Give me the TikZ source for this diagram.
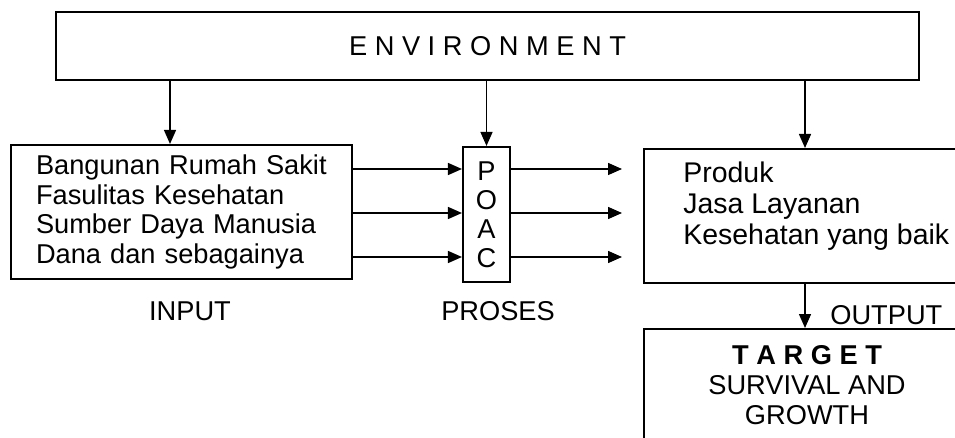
\documentclass[tikz,border=0pt]{standalone}
\usepackage{fontspec}
\setmainfont{Liberation Sans}
\usetikzlibrary{positioning, calc, arrows.meta}

\tikzset{
  box/.style={draw, line width=1.2pt, inner sep=0pt},
  arr/.style={line width=0.8pt, -{Triangle[length=0.28cm, width=0.24cm]}},
  lbl/.style={inner sep=0pt},
}

\begin{document}
\begin{tikzpicture}[x=0.02cm, y=-0.02cm, font=\fontsize{15.5}{17}\selectfont]
  \useasboundingbox (0,0) rectangle (955,438);
  \clip (0,0) rectangle (955,438);

  % ==========================================
  % Environment (top)
  % ==========================================
  \node[box, minimum width=863*0.02cm, minimum height=68*0.02cm] (env) at (487.5,46) {E N V I R O N M E N T};

  % ==========================================
  % Input -- Proses -- Output
  % ==========================================
  \node[box, minimum width=341*0.02cm, minimum height=134*0.02cm, text width=291*0.02cm, align=left] (input) at (181.5,212)
    {Bangunan Rumah Sakit\\Fasulitas Kesehatan\\Sumber Daya Manusia\\Dana dan sebagainya};
  \node[box, minimum width=47*0.02cm, minimum height=135*0.02cm, align=center, font=\fontsize{15.5}{16.5}\selectfont] (poac) at (486.5,214.5)
    {P\\O\\A\\C};

  % output box runs off the right edge
  \node[box, anchor=north west, minimum width=340*0.02cm, minimum height=134*0.02cm] (output) at (643,148) {};
  \node[lbl, anchor=north west, align=left, font=\fontsize{16.2}{17.6}\selectfont] (outlist) at (683,162)
    {Produk\\Jasa Layanan\\Kesehatan yang baik};

  % labels under the boxes
  \node[lbl] (inlabel) at (190,311) {INPUT};
  \node[lbl] (proslabel) at (498,311) {PROSES};
  \node[lbl, anchor=west] (outlabel) at (830,315) {OUTPUT};

  % ==========================================
  % Target (bottom right, cut off)
  % ==========================================
  \node[box, anchor=north west, minimum width=340*0.02cm, minimum height=150*0.02cm] (target) at (643,328) {};
  \node[lbl, anchor=north, align=center] (goal) at (807,345)
    {\textbf{T A R G E T}\\SURVIVAL AND\\GROWTH};

  % arrows down from the environment
  \coordinate (a1) at (170,0);
  \coordinate (a3) at (805,0);
  \draw[arr] (a1 |- env.south) -- (a1 |- input.north);
  \draw[arr] (poac.north |- env.south) -- (poac.north);
  \draw[arr] (a3 |- env.south) -- (a3 |- output.north);
  \draw[arr] (a3 |- output.south) -- (a3 |- target.north);

  % arrows through P O A C
  \foreach \y [count=\i] in {169,213,257} {
    \coordinate (r\i) at (622,\y);
    \draw[arr] (input.east |- r\i) -- (poac.west |- r\i);
    \draw[arr] (poac.east |- r\i) -- (r\i);
  }

\end{tikzpicture}
\end{document}
